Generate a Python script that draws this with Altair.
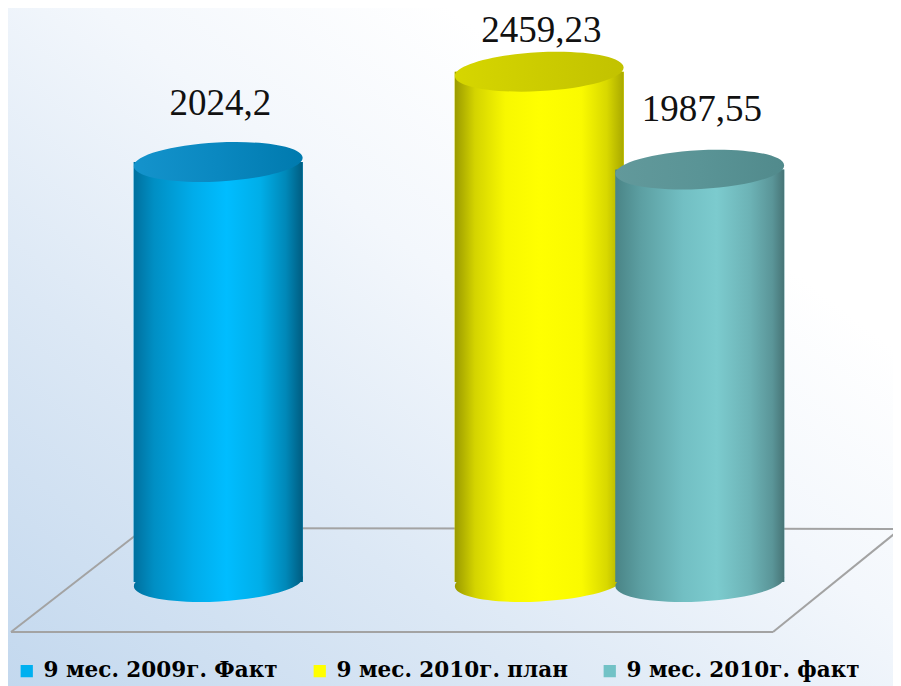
import altair as alt
import pandas as pd

# ---- data ----
series = ["9 мес. 2009г. Факт", "9 мес. 2010г. план", "9 мес. 2010г. факт"]
values = [2024.2, 2459.23, 1987.55]

# ---- styles ----
legend_colors = ["#00b0f0", "#ffff00", "#72c2c6"]
body_stops = {
    series[0]: [("#00709e", 0), ("#008fc4", 0.12), ("#00acea", 0.35), ("#00bdff", 0.55),
                ("#00aee8", 0.75), ("#0088b8", 0.9), ("#005c80", 1)],
    series[1]: [("#9a9a00", 0), ("#d4d400", 0.12), ("#f8f800", 0.3), ("#ffff00", 0.5),
                ("#fafa00", 0.75), ("#d8d800", 0.9), ("#a8a800", 1)],
    series[2]: [("#4a8486", 0), ("#5c9fa2", 0.15), ("#72bfc3", 0.4), ("#7ccbce", 0.6),
                ("#6cb2b5", 0.8), ("#5a9598", 0.93), ("#477476", 1)],
}
top_stops = {
    series[0]: [("#1493cc", 0), ("#0a88c0", 0.5), ("#007aae", 1)],
    series[1]: [("#d6d600", 0), ("#cccc00", 0.5), ("#c2c200", 1)],
    series[2]: [("#62999b", 0), ("#5a9496", 0.5), ("#518a8c", 1)],
}


def grad(stops):
    return alt.Gradient(gradient="linear", x1=0, y1=0, x2=1, y2=0,
                        stops=[alt.GradientStop(color=c, offset=o) for c, o in stops])


W, H = 885, 678
BAR_W = 169
TILT = 357
ELLIPSE = ("M-1,0 C-1,-0.127 -0.5523,-0.23 0,-0.23 C0.5523,-0.23 1,-0.127 1,0 "
           "C1,0.127 0.5523,0.23 0,0.23 C-0.5523,0.23 -1,0.127 -1,0 Z")

df = pd.DataFrame({"series": series, "value": values})
one = pd.DataFrame({"a": [0]})

x_domain = [series[0], " ", series[1], series[2]]
X = alt.X("series:N", scale=alt.Scale(domain=x_domain, range=[130, 772],
                                      paddingInner=0, paddingOuter=0), axis=None)
yscale = alt.Scale(domain=[-501.2, 2766.3], nice=False, zero=False)
Ytop = alt.Y("value:Q", scale=yscale, axis=None)
Ybase = alt.Y("base:Q", scale=yscale, axis=None)
Y2base = alt.Y2("base:Q")

base = alt.Chart(df).transform_calculate(base="0")

# background
bg = alt.Chart(one).mark_rect(
    color=alt.Gradient(gradient="linear", x1=0, y1=1, x2=1, y2=0,
                       stops=[alt.GradientStop(color="#c3d8ee", offset=0),
                              alt.GradientStop(color="#dce8f5", offset=0.3),
                              alt.GradientStop(color="#f3f7fc", offset=0.55),
                              alt.GradientStop(color="#ffffff", offset=0.75)])
).encode(x=alt.value(0), x2=alt.value(W), y=alt.value(0), y2=alt.value(H))

# floor
floor_edges = [((137, 520), (891, 521)), ((891, 522), (765, 624)),
               ((3, 624), (765, 624)), ((3, 624), (137, 520))]
floor = [alt.Chart(one).mark_rule(color="#a3a3a3", strokeWidth=2).encode(
    x=alt.value(a[0]), y=alt.value(a[1]), x2=alt.value(b[0]), y2=alt.value(b[1]))
    for a, b in floor_edges]

legend_layer = base.mark_bar(width=BAR_W).encode(
    x=X, y=Ytop, y2=Y2base,
    color=alt.Color("series:N",
                    scale=alt.Scale(domain=series, range=legend_colors),
                    legend=alt.Legend(orient="none", legendX=8, legendY=652,
                                      direction="horizontal", title=None,
                                      symbolType="square", symbolSize=150,
                                      symbolStrokeWidth=0, symbolOpacity=1,
                                      labelFont="DejaVu Serif", labelFontWeight="bold",
                                      labelFontSize=21.5, labelColor="black",
                                      labelLimit=0, columnPadding=31,
                                      labelOffset=6, padding=0)))

cyl = []
for s in series:
    f = base.transform_filter(alt.datum.series == s)
    cyl.append(f.mark_point(shape=ELLIPSE, size=BAR_W ** 2, filled=True, opacity=1,
                            angle=TILT, strokeWidth=0, color=grad(body_stops[s]))
               .encode(x=X, y=Ybase))
    cyl.append(f.mark_bar(width=BAR_W, color=grad(body_stops[s]))
               .encode(x=X, y=Ytop, y2=Y2base))
    cyl.append(f.mark_point(shape=ELLIPSE, size=BAR_W ** 2, filled=True, opacity=1,
                            angle=TILT, strokeWidth=0, color=grad(top_stops[s]))
               .encode(x=X, y=Ytop))

labels = base.transform_calculate(
    label="replace(toString(datum.value), '.', ',')"
).mark_text(font="Liberation Serif", fontSize=37, color="#111111",
            baseline="alphabetic", align="center", dx=2).encode(
    x=X,
    y=alt.Y("value:Q", scale=alt.Scale(domain=[-1378.6, 2661.9], nice=False, zero=False),
            axis=None),
    text="label:N")

chart = alt.layer(bg, *floor, legend_layer, *cyl, labels).resolve_scale(
    y="independent"
).properties(
    width=W, height=H, padding=0, autosize=alt.AutoSizeParams(type="none")
).configure_view(stroke=None)

chart.save("out.html", embed_options={"renderer": "svg", "actions": False})
